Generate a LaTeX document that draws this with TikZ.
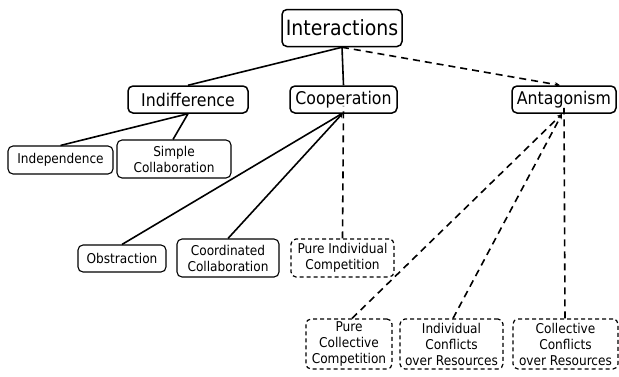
\documentclass[tikz,border=0pt]{standalone}
\usepackage{fontspec}
\setmainfont{DejaVu Sans Condensed}
\usetikzlibrary{arrows.meta}
\begin{document}
\begin{tikzpicture}[x=1pt,y=-1pt,
  box/.style={draw, line width=1.5pt, rounded corners=5pt, inner sep=0pt, align=center},
  topbox/.style={box, font=\fontsize{21}{24}\selectfont},
  midbox/.style={box, font=\fontsize{17.5}{20}\selectfont, minimum height=27pt},
  leafbox/.style={box, line width=1.1pt, font=\fontsize{13.5}{16}\selectfont},
  dleaf/.style={leafbox, line width=1.2pt, dash pattern=on 4pt off 3pt},
  link/.style={line width=1.6pt},
  dlink/.style={line width=1.6pt, dash pattern=on 7pt off 5pt},
  tip/.style={-{Stealth[length=5pt,width=4.5pt]}}
]
\useasboundingbox (0,0) rectangle (619,376);
\node[topbox, minimum width=120pt, minimum height=37pt] (int) at (342,28) {Interactions};
\node[midbox, minimum width=120pt] (ind) at (188,99.5) {Indifference};
\node[midbox, minimum width=107pt] (coop) at (343.5,99.5) {Cooperation};
\node[midbox, minimum width=104pt] (ant) at (564,99.5) {Antagonism};
\node[leafbox, minimum width=105pt, minimum height=28pt] (indep) at (60.5,160) {Independence};
\node[leafbox, minimum width=114pt, minimum height=38pt] (simple) at (174,159) {Simple\\Collaboration};
\node[leafbox, minimum width=88pt, minimum height=27pt] (obs) at (122,258.5) {Obstraction};
\node[leafbox, minimum width=102pt, minimum height=38pt] (coord) at (228,258) {Coordinated\\Collaboration};
\node[dleaf, minimum width=103pt, minimum height=38pt] (pic) at (342.5,258) {Pure Individual\\Competition};
\node[dleaf, minimum width=86pt, minimum height=50pt] (pcc) at (349,344) {Pure\\Collective\\Competition};
\node[dleaf, minimum width=103pt, minimum height=50pt] (icr) at (451.5,344) {Individual\\Conflicts\\over Resources};
\node[dleaf, minimum width=105pt, minimum height=50pt] (ccr) at (565.5,344) {Collective\\Conflicts\\over Resources};
\coordinate (coopin) at (343,113);
\coordinate (antin) at (562,114);
% top level
\draw[link] (int.south) -- (ind.north);
\draw[link] (int.south) -- (coop.north);
\draw[dlink, tip] (int.south) -- ([xshift=-4pt]ant.north);
% indifference
\draw[link] (indep.north) -- (ind.south);
\draw[link] ([xshift=-1pt]simple.north) -- (ind.south);
% cooperation
\draw[link, tip] (obs.north) -- (coopin);
\draw[link, tip] (coord.north) -- (coopin);
\draw[dlink] (pic.north) -- ([yshift=8pt]coop.south);
% antagonism
\draw[dlink, tip] ([xshift=3pt]pcc.north) -- (antin);
\draw[dlink, tip] ([xshift=1.5pt]icr.north) -- (antin);
\draw[dlink] ([xshift=-0.5pt]ccr.north) -- ([yshift=6pt]ant.south);
\end{tikzpicture}
\end{document}
